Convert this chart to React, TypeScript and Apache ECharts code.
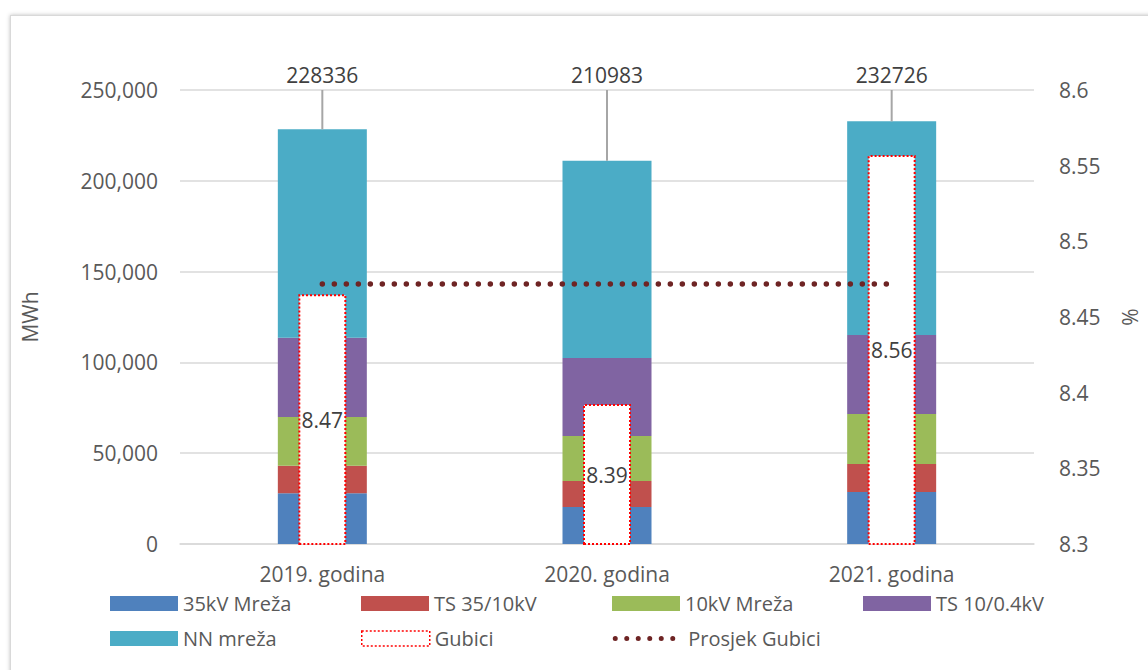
import React, { useEffect, useRef } from "react";
import * as echarts from "echarts";

const categories = ["2019. godina", "2020. godina", "2021. godina"];
const mreza35 = [28000, 20400, 28600];
const ts3510 = [15100, 14300, 15400];
const mreza10 = [26800, 24800, 27600];
const ts1004 = [43700, 42900, 43500];
const nnMreza = [114736, 108583, 117626];
const totals = [228336, 210983, 232726];
const gubici = [8.465, 8.3925, 8.557];
const gubiciLabels = ["8.47", "8.39", "8.56"];
const prosjek = [8.4718, 8.4718, 8.4718];

const FONT = "'Open Sans', 'Noto Sans', sans-serif";
const TXT = "#595959";
const GRID = "#d9d9d9";
const DOT = "#6E2424";

export default function App() {
  const ref = useRef<HTMLDivElement>(null);
  useEffect(() => {
    if (!ref.current) return;
    const chart = echarts.init(ref.current, null, { renderer: "svg" });
    const stackDefs = [
      { name: "35kV Mreža", data: mreza35, color: "#4F81BD" },
      { name: "TS 35/10kV", data: ts3510, color: "#C0504D" },
      { name: "10kV Mreža", data: mreza10, color: "#9BBB59" },
      { name: "TS 10/0.4kV", data: ts1004, color: "#8064A2" },
      { name: "NN mreža", data: nnMreza, color: "#4BACC6" },
    ];
    const stackSeries = stackDefs.map((s) => ({
      name: s.name,
      type: "bar",
      stack: "total",
      xAxisIndex: 0,
      yAxisIndex: 0,
      barWidth: 89,
      data: s.data,
      itemStyle: { color: s.color },
      emphasis: { disabled: true },
    }));
    chart.setOption({
      animation: false,
      textStyle: { fontFamily: FONT },
      grid: { left: 180, right: 108, top: 90, bottom: 126, containLabel: false },
      legend: {
        left: 110,
        top: 590,
        width: 1030,
        padding: 0,
        itemWidth: 68,
        itemHeight: 15,
        itemGap: 8,
        selectedMode: false,
        data: [
          ...stackDefs.map((s) => ({ name: s.name, icon: "rect" })),
          {
            name: "Gubici",
            icon: "rect",
            itemStyle: {
              color: "#ffffff",
              borderColor: "#FF0000",
              borderWidth: 1.5,
              borderType: [2, 2],
            },
          },
          {
            name: "Prosjek Gubici",
            itemStyle: { opacity: 0 },
            lineStyle: { color: DOT, width: 5, type: [0, 11.5], cap: "round" },
          },
        ],
        textStyle: { color: TXT, fontSize: 20, width: 170, lineHeight: 27, fontFamily: FONT },
      },
      xAxis: [
        {
          type: "category",
          data: categories,
          axisLine: { lineStyle: { color: GRID, width: 1.5 } },
          axisTick: { show: false },
          axisLabel: { color: TXT, fontSize: 21, margin: 19, fontFamily: FONT },
        },
        { type: "category", data: categories, show: false },
      ],
      yAxis: [
        {
          type: "value",
          min: 0,
          max: 250000,
          interval: 50000,
          name: "MWh",
          nameLocation: "middle",
          nameRotate: 90,
          nameGap: 140,
          nameTextStyle: { color: TXT, fontSize: 21, fontFamily: FONT },
          axisLine: { show: false },
          axisTick: { show: false },
          splitLine: { lineStyle: { color: GRID, width: 1.5 } },
          axisLabel: {
            color: TXT,
            fontSize: 21,
            margin: 22,
            fontFamily: FONT,
            formatter: (v: number) => v.toLocaleString("en-US"),
          },
        },
        {
          type: "value",
          min: 8.3,
          max: 8.6,
          interval: 0.05,
          name: "%",
          nameLocation: "middle",
          nameRotate: 90,
          nameGap: 85,
          nameTextStyle: { color: TXT, fontSize: 21, fontFamily: FONT },
          axisLine: { show: false },
          axisTick: { show: false },
          splitLine: { show: false },
          axisLabel: {
            color: TXT,
            fontSize: 21,
            margin: 25,
            fontFamily: FONT,
            formatter: (v: number) => String(Number(v.toFixed(2))),
          },
        },
      ],
      series: [
        ...stackSeries,
        {
          name: "Gubici",
          type: "bar",
          xAxisIndex: 1,
          yAxisIndex: 1,
          barWidth: 48,
          z: 5,
          data: gubici,
          itemStyle: {
            color: "#ffffff",
            borderColor: "#FF0000",
            borderWidth: 2,
            borderType: [2, 2],
          },
          label: {
            show: true,
            position: "inside",
            color: "#404040",
            fontSize: 21,
            fontFamily: FONT,
            formatter: (p: any) => gubiciLabels[p.dataIndex],
          },
          emphasis: { disabled: true },
        },
        {
          name: "Prosjek Gubici",
          type: "line",
          xAxisIndex: 0,
          yAxisIndex: 1,
          z: 6,
          data: prosjek,
          symbol: "none",
          lineStyle: { color: DOT, width: 5.5, type: [0, 12], cap: "round" },
          itemStyle: { color: DOT },
          emphasis: { disabled: true },
        },
        {
          name: "totals",
          type: "custom",
          xAxisIndex: 0,
          yAxisIndex: 0,
          z: 7,
          data: totals.map((t, i) => [i, t]),
          encode: { x: 0, y: 1 },
          renderItem: (params: any, api: any) => {
            const idx = api.value(0);
            const total = api.value(1);
            const p = api.coord([idx, total]);
            const top = api.coord([idx, 250000]);
            return {
              type: "group",
              children: [
                {
                  type: "line",
                  shape: { x1: p[0], y1: p[1], x2: p[0], y2: top[1] },
                  style: { stroke: "#a6a6a6", lineWidth: 2 },
                },
                {
                  type: "text",
                  style: {
                    text: String(total),
                    x: p[0],
                    y: top[1] - 5,
                    align: "center",
                    verticalAlign: "bottom",
                    fontSize: 21,
                    fill: "#404040",
                    fontFamily: FONT,
                  },
                },
              ],
            };
          },
        },
      ],
    });
    return () => chart.dispose();
  }, []);
  return (
    <div
      style={{
        position: "fixed",
        left: 0,
        top: 0,
        width: 1148,
        height: 670,
        overflow: "hidden",
        background: "#fff",
      }}
    >
      <div
        style={{
          position: "absolute",
          left: 10,
          top: 15,
          width: 1200,
          height: 700,
          border: "1px solid #d9d9d9",
          boxShadow: "0 0 4px rgba(0,0,0,0.25)",
          background: "#fff",
        }}
      />
      <div ref={ref} style={{ position: "absolute", left: 0, top: 0, width: 1148, height: 670 }} />
    </div>
  );
}
